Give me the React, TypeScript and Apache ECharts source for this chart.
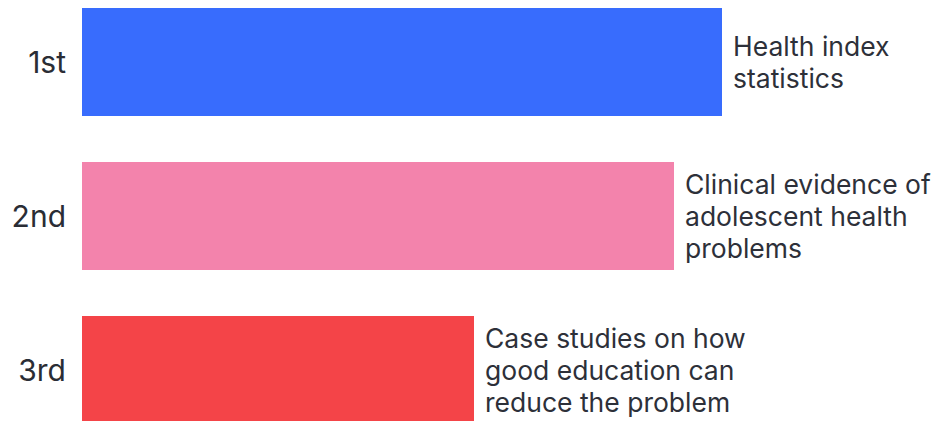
import React, { useEffect, useRef } from "react";
import * as echarts from "echarts";

const ranks = ["1st", "2nd", "3rd"];
const values = [80, 74, 49];
const descriptions = [
  "Health index\nstatistics",
  "Clinical evidence of\nadolescent health\nproblems",
  "Case studies on how\ngood education can\nreduce the problem",
];
const colors = ["#386cfd", "#f383ac", "#f44448"];

export default function App() {
  const ref = useRef<HTMLDivElement>(null);
  useEffect(() => {
    if (!ref.current) return;
    const chart = echarts.init(ref.current, null, { renderer: "svg" });
    chart.setOption({
      animation: false,
      backgroundColor: "#ffffff",
      grid: { left: 82, width: 800, top: 0, bottom: 0, containLabel: false, outerBoundsMode: "none" },
      xAxis: {
        type: "value",
        min: 0,
        max: 100,
        show: false,
      },
      yAxis: {
        type: "category",
        data: ranks,
        inverse: true,
        axisLine: { show: false },
        axisTick: { show: false },
        axisLabel: {
          margin: 16,
          fontSize: 30,
          fontFamily: "Inter, 'Noto Sans', sans-serif",
          color: "#2a2d35",
        },
      },
      series: [
        {
          type: "bar",
          barWidth: 108,
          data: values.map((v, i) => ({
            value: v,
            itemStyle: { color: colors[i] },
            label: {
              show: true,
              position: "right",
              distance: 11,
              formatter: descriptions[i],
              fontSize: 26.5,
              lineHeight: 32,
              fontFamily: "Inter, 'Noto Sans', sans-serif",
              color: "#2d3039",
            },
          })),
        },
      ],
    });
    return () => chart.dispose();
  }, []);
  return (
    <div
      ref={ref}
      style={{ position: "fixed", left: 0, top: -15, width: 938, height: 462 }}
    />
  );
}
